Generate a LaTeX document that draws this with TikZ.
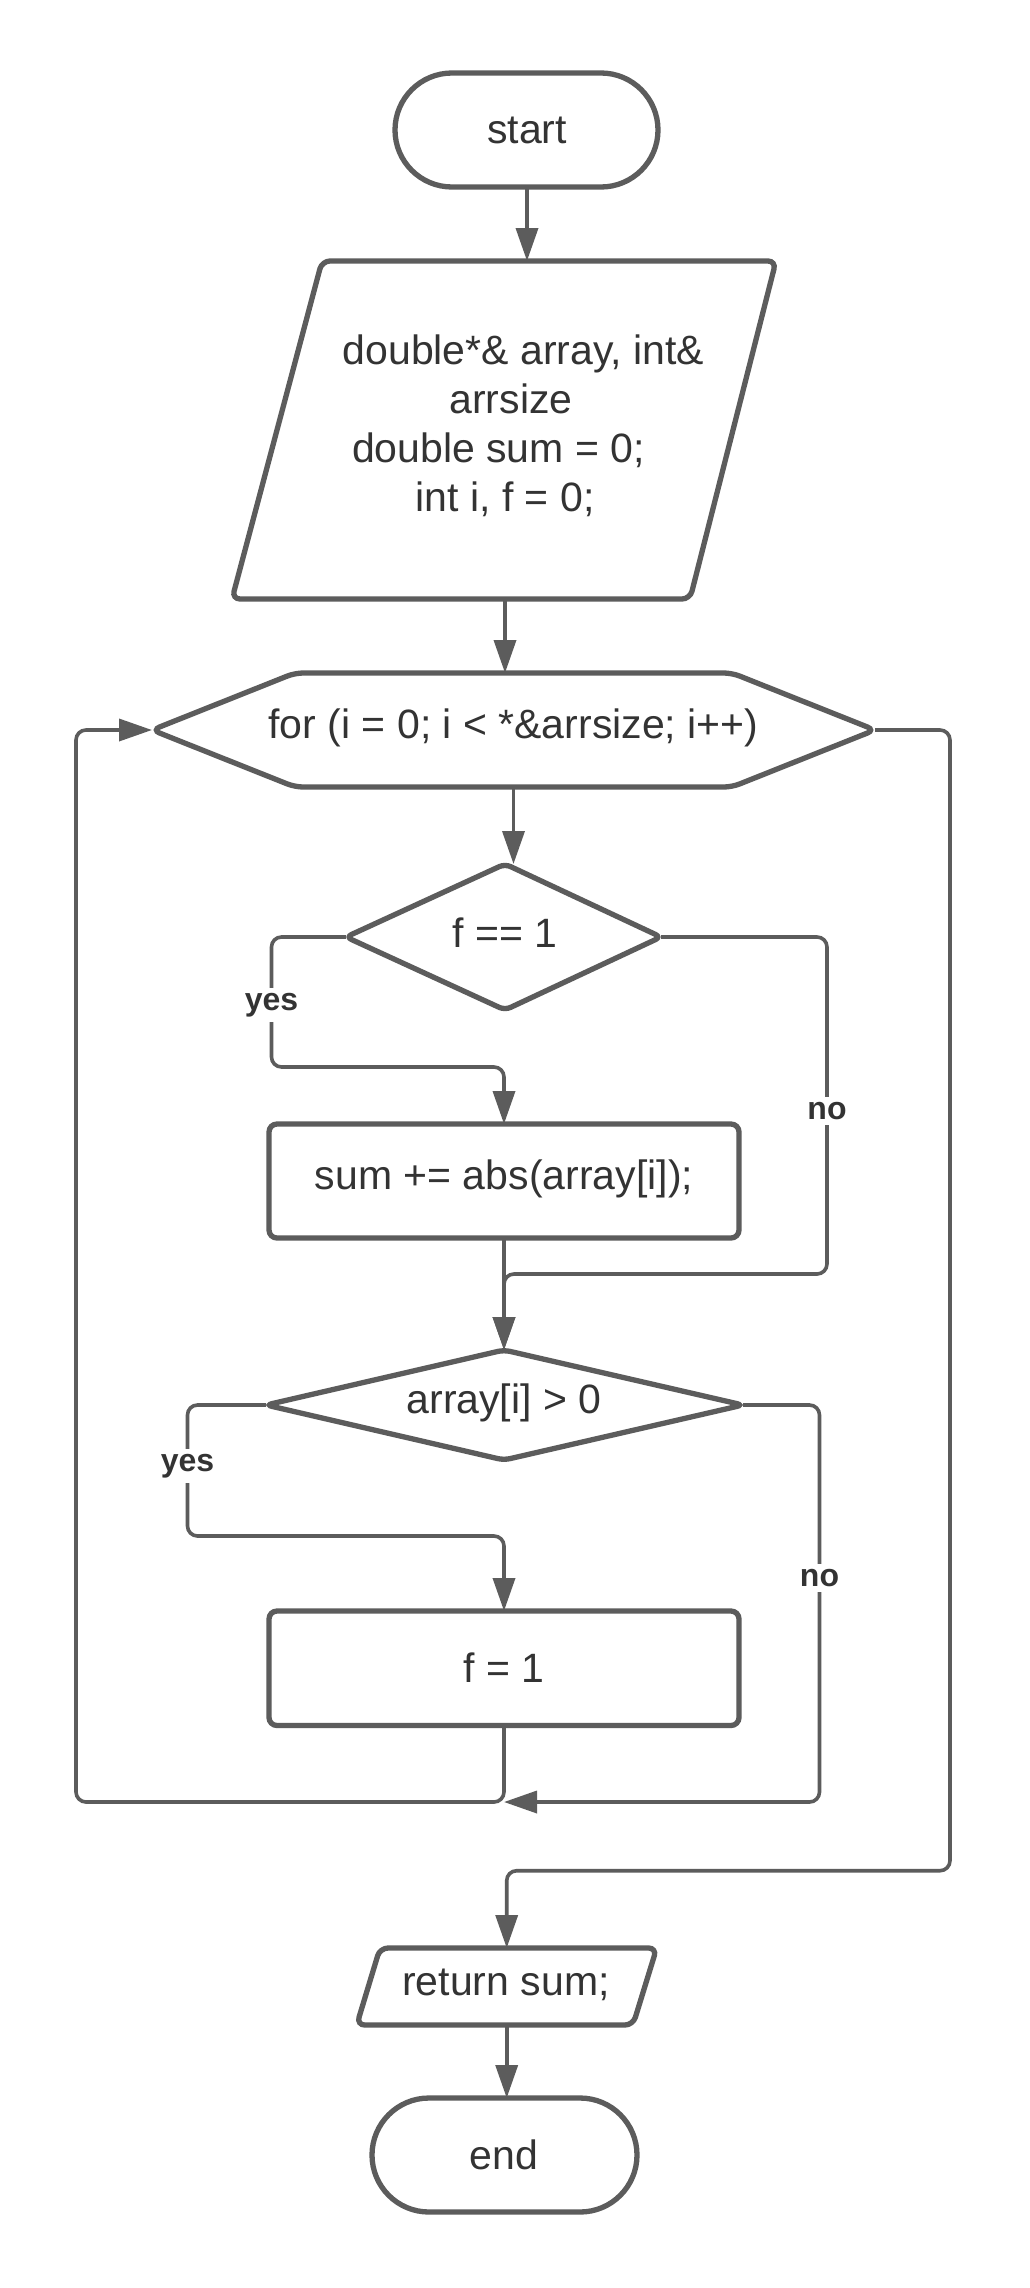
\documentclass[tikz,border=0pt]{standalone}
\usepackage{fontspec}
\setmainfont{Liberation Sans}
\usetikzlibrary{arrows.meta}
\definecolor{edge}{RGB}{92,92,92}
\definecolor{ink}{RGB}{51,51,51}

\begin{document}
\begin{tikzpicture}[x=1pt,y=-1pt,
  shapeline/.style={draw=edge, line width=5.3pt, rounded corners=8pt, fill=white},
  txt/.style={text=ink, font=\fontsize{41}{49}\selectfont, align=center, inner sep=0pt},
  flow/.style={draw=edge, line width=3.6pt, rounded corners=10pt, -{Triangle[length=33pt,width=22pt]}},
  lbl/.style={fill=white, text=ink, font=\fontsize{32}{38}\selectfont\bfseries, inner sep=5pt}]

\fill[white] (0,0) rectangle (1029,2288);
\useasboundingbox (0,0) rectangle (1029,2288);

% ---- shapes ----
% start terminal
\draw[shapeline, rounded corners=57pt] (395,73) rectangle (658,187);
\node[txt] (start) at (527,130) {start};
\coordinate (start-s) at (527,187);

% input parallelogram
\draw[shapeline] (322,261) -- (776,261) -- (690,599) -- (232,599) -- cycle;
\node[txt] (params) at (505,426)
  {\hspace*{37pt}double*\& array, int\&\\\hspace*{12pt}arrsize\\\hspace*{-13pt}double sum = 0;\\int i, f = 0;};
\coordinate (params-n) at (527,261);
\coordinate (params-s) at (505,599);

% loop header hexagon
\draw[shapeline] (152,730) -- (295,673) -- (732,673) -- (875,730) -- (732,787) -- (295,787) -- cycle;
\node[txt] (loop) at (513.5,728) {for (i = 0; i < *\&arrsize; i++)};
\coordinate (loop-n) at (505,673);
\coordinate (loop-s) at (513.5,787);
\coordinate (loop-w) at (152,730);
\coordinate (loop-e) at (875,730);

% decision f == 1
\draw[shapeline, rounded corners=6pt] (505,864) -- (661,937) -- (505,1010) -- (346,937) -- cycle;
\node[txt] (flag) at (505,933) {f == 1};
\coordinate (flag-n) at (513.5,864);
\coordinate (flag-w) at (346,937);
\coordinate (flag-e) at (661,937);

% accumulate
\draw[shapeline] (269,1124) rectangle (739,1238);
\node[txt] (acc) at (504,1179) {sum += abs(array[i]);};
\coordinate (acc-n) at (504,1124);
\coordinate (acc-s) at (504,1238);

% decision array[i] > 0
\draw[shapeline, rounded corners=6pt] (504,1350) -- (743,1405) -- (504,1460) -- (266,1405) -- cycle;
\node[txt] (pos) at (504,1403) {array[i] > 0};
\coordinate (pos-n) at (504,1350);
\coordinate (pos-w) at (266,1405);
\coordinate (pos-e) at (743,1405);

% set flag
\draw[shapeline] (269,1611) rectangle (739,1725.5);
\node[txt] (setf) at (504,1668) {f = 1};
\coordinate (setf-n) at (504,1611);
\coordinate (setf-s) at (504,1725.5);

% output parallelogram
\draw[shapeline] (380,1948) -- (656.7,1948) -- (633,2025) -- (356.7,2025) -- cycle;
\node[txt] (ret) at (506,1985) {return sum;};
\coordinate (ret-n) at (506.7,1948);
\coordinate (ret-s) at (506.7,2025);

% end terminal
\draw[shapeline, rounded corners=57pt] (372,2098) rectangle (637,2212);
\node[txt] (end) at (504,2155) {end};
\coordinate (end-n) at (506.7,2098);

% ---- connectors ----
\coordinate (join) at (504,1802);

\draw[flow] (start-s) -- (params-n);
\draw[flow] (params-s) -- (loop-n);
\draw[flow] (loop-s) -- (flag-n);

% f == 1 : yes / no
\draw[flow] (flag-w) -- (271.5,937) -- (271.5,1067) -- (504,1067) -- (acc-n);
\draw[flow] (flag-e) -- (827,937) -- (827,1274) -- (504,1274) -- (pos-n);
\draw[flow] (acc-s) -- (pos-n);
\node[lbl] (yes1) at (271.5,1005) {yes};
\node[lbl] (no1) at (827,1111) {no};

% array[i] > 0 : yes / no
\draw[flow] (pos-w) -- (187.5,1405) -- (187.5,1536) -- (504,1536) -- (setf-n);
\draw[flow] (pos-e) -- (819.5,1405) -- (819.5,1802) -- (join);
\node[lbl] (yes2) at (187.5,1466) {yes};
\node[lbl] (no2) at (819.5,1578) {no};

% back to the loop header
\draw[flow] (setf-s) -- (join) -- (76,1802) -- (76,730) -- (loop-w);

% loop exit
\draw[flow] (loop-e) -- (950,730) -- (950,1870.7) -- (506.7,1870.7) -- (ret-n);
\draw[flow] (ret-s) -- (end-n);

\end{tikzpicture}
\end{document}
